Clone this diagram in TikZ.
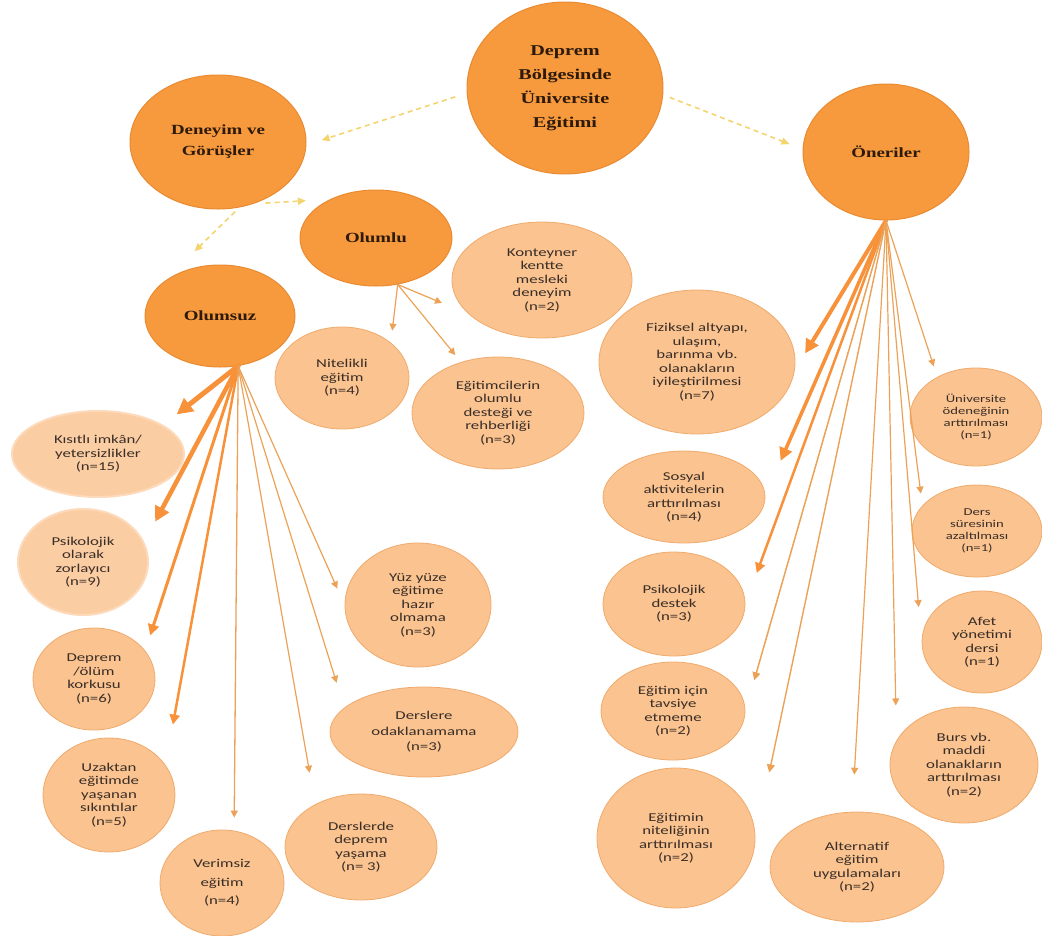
\documentclass[tikz,border=0pt]{standalone}
\usepackage{fontspec}
\setmainfont{Liberation Serif}
\newfontfamily\titlefont[FakeStretch=1.35]{Liberation Serif}
\newfontfamily\leaffont[FakeStretch=1.4]{Carlito}
\usepackage{xcolor}
\usepackage{tikz}
\usetikzlibrary{positioning,shapes.geometric,arrows.meta}

\definecolor{hubfill}{HTML}{F79A3E}
\definecolor{hubedge}{HTML}{E98A30}
\definecolor{hubtext}{HTML}{2E1A0A}
\definecolor{leaffill}{HTML}{FAC38F}
\definecolor{leafedge}{HTML}{F0AA6C}
\definecolor{palefill}{HTML}{FBCDA3}
\definecolor{paleedge}{HTML}{FCDABB}
\definecolor{leaftext}{HTML}{3A2E28}
\definecolor{linkcol}{HTML}{F7923A}
\definecolor{thincol}{HTML}{EBA257}
\definecolor{dashcol}{HTML}{F3D46F}

\begin{document}
\begin{tikzpicture}[x=1pt, y=-1pt, >=Stealth,
    hub/.style={ellipse, inner sep=0pt, fill=hubfill, draw=hubedge, line width=1pt,
      align=center, text=hubtext, font=\titlefont\bfseries\fontsize{14}{21}\selectfont},
    leaf/.style={ellipse, inner sep=0pt, fill=leaffill, draw=leafedge, line width=0.8pt,
      align=center, text=leaftext, font=\leaffont\fontsize{12}{13.5}\selectfont},
    softleaf/.style={leaf, fill=palefill, draw=paleedge, line width=2pt},
    smalltext/.style={font=\leaffont\fontsize{10.5}{12}\selectfont},
    link/.style={line cap=round},
    dashlink/.style={draw=dashcol, line width=1.6pt, dash pattern=on 5pt off 4pt,
      -{Triangle[length=8pt, width=7pt]}}]
  \useasboundingbox (0,0) rectangle (1042,935);
  % ---- main themes
  \node[hub, minimum width=196, minimum height=172,
    font=\titlefont\bfseries\fontsize{15}{24}\selectfont] (deprem) at (565,88)
    {Deprem\\Bölgesinde\\Üniversite\\Eğitimi};
  \node[hub, minimum width=176, minimum height=134] (deneyim) at (218,142) {Deneyim ve\\Görüşler};
  \node[hub, minimum width=166, minimum height=136] (oneriler) at (886,152) {Öneriler};
  \node[hub, minimum width=152, minimum height=96] (olumlu) at (376,238) {Olumlu};
  \node[hub, minimum width=150, minimum height=102] (olumsuz) at (220,316) {Olumsuz};
  % ---- olumlu codes
  \node[leaf, minimum width=180, minimum height=116] (konteyner) at (542,280)
    {Konteyner\\kentte\\mesleki\\deneyim\\(n=2)};
  \node[leaf, minimum width=134, minimum height=102] (nitelikli) at (342,378)
    {Nitelikli\\eğitim\\(n=4)};
  \node[leaf, minimum width=172, minimum height=112] (egitimci) at (498,413)
    {Eğitimcilerin\\olumlu\\desteği ve\\rehberliği\\(n=3)};
  % ---- olumsuz codes
  \node[softleaf, minimum width=172, minimum height=86] (kisitli) at (98,454)
    {Kısıtlı imkân/\\yetersizlikler\\(n=15)};
  \node[softleaf, minimum width=130, minimum height=106] (psikoloji) at (83,562)
    {Psikolojik\\olarak\\zorlayıcı\\(n=9)};
  \node[leaf, minimum width=122, minimum height=102] (korku) at (94,679)
    {Deprem\\/ölüm\\korkusu\\(n=6)};
  \node[leaf, minimum width=132, minimum height=114] (uzaktan) at (109,795)
    {Uzaktan\\eğitimde\\yaşanan\\sıkıntılar\\(n=5)};
  \node[leaf, minimum width=124, minimum height=106] (verimsiz) at (222,883)
    {Verimsiz\\[5pt]eğitim\\[5pt](n=4)};
  \node[leaf, minimum width=152, minimum height=106] (derslerde) at (361,847)
    {Derslerde\\deprem\\yaşama\\(n= 3)};
  \node[leaf, minimum width=188, minimum height=90] (odak) at (424,732)
    {Derslere\\[2pt]odaklanamama\\[2pt](n=3)};
  \node[leaf, minimum width=146, minimum height=124] (yuzyuze) at (418,605)
    {Yüz yüze\\eğitime\\hazır\\olmama\\(n=3)};
  % ---- oneriler codes
  \node[leaf, minimum width=196, minimum height=144] (fiziksel) at (697,362)
    {Fiziksel altyapı,\\ulaşım,\\barınma vb.\\olanakların\\iyileştirilmesi\\(n=7)};
  \node[leaf, smalltext, minimum width=132, minimum height=98] (odenek) at (976,417)
    {Üniversite\\ödeneğinin\\arttırılması\\(n=1)};
  \node[leaf, smalltext, minimum width=130, minimum height=92] (sure) at (977,531)
    {Ders\\süresinin\\azaltılması\\(n=1)};
  \node[leaf, minimum width=120, minimum height=102] (afet) at (982,642)
    {Afet\\yönetimi\\dersi\\(n=1)};
  \node[leaf, minimum width=148, minimum height=116] (burs) at (964,765)
    {Burs vb.\\maddi\\olanakların\\arttırılması\\(n=2)};
  \node[leaf, minimum width=174, minimum height=110] (alternatif) at (857,867)
    {Alternatif\\eğitim\\uygulamaları\\(n=2)};
  \node[leaf, minimum width=158, minimum height=140] (niteligi) at (676,838)
    {Eğitimin\\niteliğinin\\arttırılması\\(n=2)};
  \node[leaf, minimum width=144, minimum height=98] (tavsiye) at (673,711)
    {Eğitim için\\tavsiye\\etmeme\\(n=2)};
  \node[leaf, minimum width=142, minimum height=104] (destek) at (674,604)
    {Psikolojik\\destek\\(n=3)};
  \node[leaf, minimum width=162, minimum height=92] (sosyal) at (684,497)
    {Sosyal\\aktivitelerin\\arttırılması\\(n=4)};
  % ---- dashed links between themes
  \draw[dashlink, shorten <=12pt, shorten >=16pt] (deprem.183) -- (deneyim.-2);
  \draw[dashlink, shorten <=7pt, shorten >=14pt] (deprem.-4) -- (oneriler.178);
  \draw[dashlink, shorten <=12pt, shorten >=24pt] (deneyim.-60) -- (olumlu.140);
  \draw[dashlink, shorten <=6pt, shorten >=45pt] (deneyim.-72) -- (olumsuz.150);
  % ---- olumsuz arrows (width follows n)
  \foreach \leaf/\at/\gap/\w/\h/\c in {kisitli/24/17/5/16/linkcol, psikoloji/18/23/4.5/15/linkcol,
      korku/29/16/3/11/linkcol, uzaktan/28/41/2.5/10/linkcol, verimsiz/77/13/1.3/7/thincol,
      derslerde/137/32/1.2/7/thincol, odak/163/26/1.2/7/thincol, yuzyuze/west/18/1.2/7/thincol} {
    \draw[link, draw=\c, line width=\w pt, shorten >=\gap pt,
      -{Triangle[length=\h pt, width=\h pt]}] (olumsuz.-70) -- (\leaf.\at);
  }
  % ---- olumlu arrows
  \foreach \leaf/\at/\gap in {nitelikli/36/12, egitimci/126/9, konteyner/205/29} {
    \draw[link, draw=thincol, line width=1.2pt, shorten >=\gap pt,
      -{Triangle[length=7pt, width=7pt]}] (olumlu.-65) -- (\leaf.\at);
  }
  % ---- oneriler arrows
  \foreach \leaf/\at/\gap/\w/\h/\c in {fiziksel/-5/20/4/14/linkcol, sosyal/1/38/3.5/13/linkcol,
      destek/east/33/2.5/10/linkcol, tavsiye/east/32/1.5/8/thincol, niteligi/east/67/1.4/8/thincol,
      alternatif/95/37/1.2/7/thincol, burs/160/35/1.2/7/thincol, afet/west/35/1.2/7/thincol,
      sure/155/12/1.2/7/thincol, odenek/134/11/1.2/7/thincol} {
    \draw[link, draw=\c, line width=\w pt, shorten >=\gap pt,
      -{Triangle[length=\h pt, width=\h pt]}] (oneriler.south) -- (\leaf.\at);
  }
\end{tikzpicture}
\end{document}
